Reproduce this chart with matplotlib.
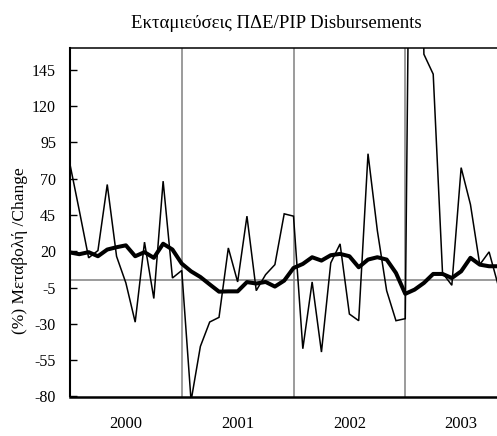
import matplotlib
matplotlib.use("Agg")
import matplotlib.pyplot as plt
import numpy as np

plt.rcParams['font.family'] = ['Liberation Serif', 'DejaVu Serif']

years = ['2000', '2001', '2002', '2003']
months_per_year = 12

# Monthly % change of PIP disbursements (thin line)
pip_change = [79.8, 48, 15.5, 20.5, 66, 16.5, -1.8, -28.8, 26.3, -12.5, 68.3, 1.6,
              6.8, -83, -45.5, -28.7, -25.5, 22.3, -1.1, 44.2, -7.1, 3.9, 10.8, 45.8,
              44.2, -47.1, -1.1, -49.4, 12, 25.1, -23.2, -27.8, 87.2, 34.3, -7.1, -27.8,
              -26.4, 620, 155.7, 142, 5.1, -3.4, 77.6, 52.2, 10.8, 19.6, -4]

# 12-month moving measure (thick line)
pip_ma = [19.2, 18, 19.4, 16.6, 21.2, 22.8, 24.1, 16.6, 19.4, 15.5, 25.2, 21.2,
          11.5, 6.2, 2.3, -2.8, -7.8, -7.6, -7.6, -1.2, -2.2, -1.1, -4.3, -0.2,
          8.5, 11.3, 15.9, 13.6, 17.3, 18.2, 16.6, 9, 14.3, 15.9, 14.3, 5.1,
          -9.3, -6.4, -1.8, 4.4, 4.4, 1.6, 6.2, 15.5, 10.8, 9.7, 9.7]

y_ticks = list(range(-80, 146, 25))

fig = plt.figure(figsize=(4.97, 4.36), dpi=100)
ax = fig.add_axes([70/497, 1-396.5/436, 1-70/497, (396.5-48)/436])

x = np.arange(len(pip_change))

# year separators and zero line
for i in range(1, len(years)):
    ax.axvline(i*months_per_year, color='#808080', lw=1.1, zorder=1)
ax.axhline(0, color='#808080', lw=1.1, zorder=1)

ax.plot(x, pip_change, color='black', lw=1.1, zorder=3, solid_joinstyle='miter')
ax.plot(x, pip_ma, color='black', lw=2.9, zorder=4, solid_joinstyle='round')

ax.set_xlim(0, 45.85)
ax.set_ylim(-80, 160)
ax.set_yticks(y_ticks)
ax.set_yticklabels([str(t) for t in y_ticks], fontsize=11.5)
ax.tick_params(axis='y', direction='in', length=5, width=1, pad=10)

ax.set_xticks([months_per_year*i + months_per_year/2 for i in range(len(years))])
ax.set_xticklabels(years, fontsize=12)
ax.tick_params(axis='x', length=0, pad=14)

ax.spines['right'].set_visible(False)
ax.spines['left'].set_linewidth(1.5)
ax.spines['bottom'].set_linewidth(1.8)
ax.spines['top'].set_linewidth(1.1)

fig.text(276/497, 1-23/436, 'Εκταμιεύσεις ΠΔΕ/PIP Disbursements', ha='center', va='center', fontsize=13.5)
fig.text(20/497, 1-251/436, '(%) Μεταβολή /Change', rotation=90, ha='center', va='center', fontsize=12.5)

fig.savefig('out.png', dpi=100)
